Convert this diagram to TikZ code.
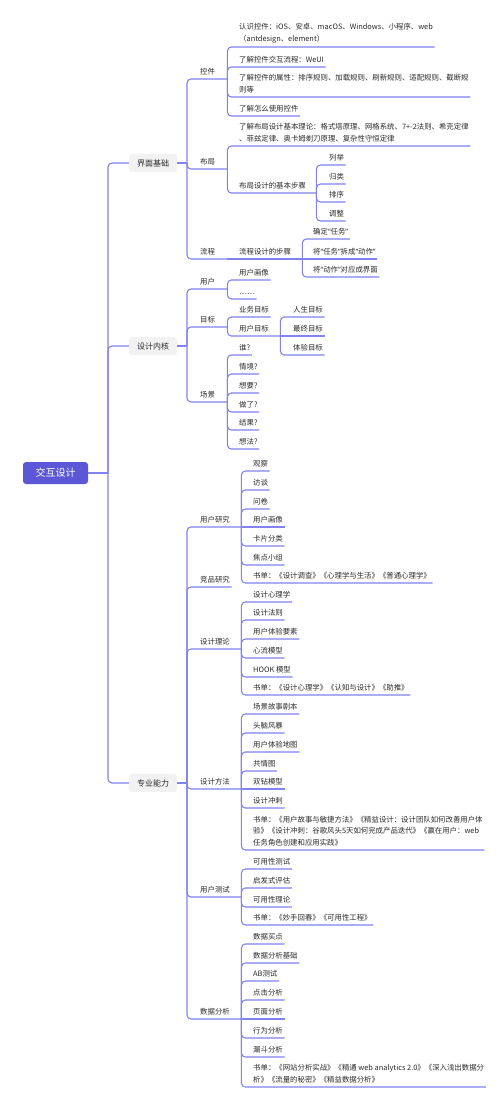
\documentclass[tikz,border=0pt]{standalone}
\usepackage{fontspec}
\setmainfont{Noto Sans CJK SC}
\newfontfamily\latinf{Noto Sans}
\newcommand\quo[1]{{\latinf“}#1{\latinf”}}
\definecolor{linec}{HTML}{8282F0}
\definecolor{rootc}{HTML}{5B57D6}
\definecolor{boxc}{HTML}{F2F2F2}
\definecolor{txtc}{HTML}{2B2B2B}
\tikzset{
  link/.style={draw=linec, line width=1.1pt, rounded corners=4pt},
  leaf/.style={anchor=south west, inner xsep=1.5pt, inner ysep=3.8pt, text=txtc, align=left,
    font=\fontsize{7.4pt}{11.5pt}\selectfont},
  sub/.style={leaf, inner xsep=0pt, text width=#1},
  topic/.style={fill=boxc, rounded corners=3pt, minimum width=48pt, minimum height=18pt,
    inner sep=0pt, text=txtc, font=\fontsize{8pt}{10pt}\selectfont},
  rootbox/.style={fill=rootc, rounded corners=3pt, minimum width=65pt, minimum height=22pt,
    inner sep=0pt, text=white, font=\fontsize{10pt}{12pt}\selectfont}
}
\begin{document}
\begin{tikzpicture}[x=1pt,y=-1pt]
\useasboundingbox[fill=white] (0,0) rectangle (500,1110);

% root and main topics
\node[rootbox] (root) at (55.5,473) {交互设计};
\coordinate (root-j) at (108,473);
\node[topic] (jm) at (153,163) {界面基础};
\node[topic] (hx) at (153,346) {设计内核};
\node[topic] (zy) at (153,783) {专业能力};
\coordinate (jm-j) at (187,163);
\coordinate (hx-j) at (187,346);
\coordinate (zy-j) at (187,783);

% 界面基础
\node[sub=27pt] (kj) at (200,79) {控件};
\node[sub=27pt] (bj) at (200,169) {布局};
\node[sub=27pt] (lc) at (200,259) {流程};
\node[leaf] (kj-1) at (237.5,47) {认识控件：iOS、安卓、macOS、Windows、小程序、web\\（antdesign、element）};
\node[leaf] (kj-2) at (237.5,67) {了解控件交互流程：WeUI};
\node[leaf] (kj-3) at (237.5,97) {了解控件的属性：排序规则、加载规则、刷新规则、适配规则、截断规\\则等};
\node[leaf] (kj-4) at (237.5,116) {了解怎么使用控件};
\node[leaf] (bj-1) at (237.5,146) {了解布局设计基本理论：格式塔原理、网格系统、7+-2法则、希克定律\\、菲兹定律、奥卡姆剃刀原理、复杂性守恒定律};
\node[sub=77pt] (bj-2) at (239,193) {布局设计的基本步骤};
\node[leaf] (bj-2-1) at (327.5,165) {列举};
\node[leaf] (bj-2-2) at (327.5,184) {归类};
\node[leaf] (bj-2-3) at (327.5,202) {排序};
\node[leaf] (bj-2-4) at (327.5,221) {调整};
\node[sub=63pt] (lc-1) at (239,259) {流程设计的步骤};
\node[leaf] (lc-1-1) at (311.5,239) {确定\quo{任务}};
\node[leaf] (lc-1-2) at (311.5,259) {将\quo{任务}拆成\quo{动作}};
\node[leaf] (lc-1-3) at (311.5,277) {将\quo{动作}对应成界面};

% 设计内核
\node[sub=27pt] (yh) at (200,289) {用户};
\node[sub=27pt] (mb) at (200,327) {目标};
\node[sub=27pt] (cj) at (200,402) {场景};
\node[leaf] (yh-1) at (237.5,280) {用户画像};
\node[leaf] (yh-2) at (237.5,299) {……};
\node[leaf] (mb-1) at (237.5,317) {业务目标};
\node[sub=41pt] (mb-2) at (239,336) {用户目标};
\node[leaf] (mb-2-1) at (291.5,317) {人生目标};
\node[leaf] (mb-2-2) at (291.5,336) {最终目标};
\node[leaf] (mb-2-3) at (291.5,355) {体验目标};
\node[leaf] (cj-1) at (237.5,355) {谁?};
\node[leaf] (cj-2) at (237.5,374) {情境?};
\node[leaf] (cj-3) at (237.5,393) {想要?};
\node[leaf] (cj-4) at (237.5,412) {做了?};
\node[leaf] (cj-5) at (237.5,430) {结果?};
\node[leaf] (cj-6) at (237.5,449) {想法?};

% 专业能力
\node[sub=41pt] (yhyj) at (200,527) {用户研究};
\node[leaf] (jpyj) at (198.5,587) {竞品研究};
\node[sub=41pt] (sjll) at (200,649) {设计理论};
\node[sub=41pt] (sjff) at (200,789) {设计方法};
\node[sub=41pt] (yhcs) at (200,897) {用户测试};
\node[sub=41pt] (sjfx) at (200,1019) {数据分析};

\node[leaf] (yhyj-1) at (251.5,471) {观察};
\node[leaf] (yhyj-2) at (251.5,490) {访谈};
\node[leaf] (yhyj-3) at (251.5,509) {问卷};
\node[leaf] (yhyj-4) at (251.5,527) {用户画像};
\node[leaf] (yhyj-5) at (251.5,546) {卡片分类};
\node[leaf] (yhyj-6) at (251.5,565) {焦点小组};
\node[leaf] (yhyj-7) at (251.5,583) {书单：《设计调查》《心理学与生活》《普通心理学》};

\node[leaf] (sjll-1) at (251.5,602) {设计心理学};
\node[leaf] (sjll-2) at (251.5,620) {设计法则};
\node[leaf] (sjll-3) at (251.5,639) {用户体验要素};
\node[leaf] (sjll-4) at (251.5,658) {心流模型};
\node[leaf] (sjll-5) at (251.5,677) {HOOK 模型};
\node[leaf] (sjll-6) at (251.5,695) {书单：《设计心理学》《认知与设计》《助推》};

\node[leaf] (sjff-1) at (251.5,714) {场景故事剧本};
\node[leaf] (sjff-2) at (251.5,733) {头脑风暴};
\node[leaf] (sjff-3) at (251.5,752) {用户体验地图};
\node[leaf] (sjff-4) at (251.5,771) {共情图};
\node[leaf] (sjff-5) at (251.5,789) {双钻模型};
\node[leaf] (sjff-6) at (251.5,808) {设计冲刺};
\node[leaf] (sjff-7) at (251.5,850) {书单：《用户故事与敏捷方法》《精益设计：设计团队如何改善用户体\\验》《设计冲刺：谷歌风头5天如何完成产品迭代》《赢在用户：web\\任务角色创建和应用实践》};

\node[leaf] (yhcs-1) at (251.5,869) {可用性测试};
\node[leaf] (yhcs-2) at (251.5,888) {启发式评估};
\node[leaf] (yhcs-3) at (251.5,907) {可用性理论};
\node[leaf] (yhcs-4) at (251.5,925) {书单：《妙手回春》《可用性工程》};

\node[leaf] (sjfx-1) at (251.5,944) {数据买点};
\node[leaf] (sjfx-2) at (251.5,963) {数据分析基础};
\node[leaf] (sjfx-3) at (251.5,981) {AB测试};
\node[leaf] (sjfx-4) at (251.5,1000) {点击分析};
\node[leaf] (sjfx-5) at (251.5,1019) {页面分析};
\node[leaf] (sjfx-6) at (251.5,1038) {行为分析};
\node[leaf] (sjfx-7) at (251.5,1057) {漏斗分析};
\node[leaf] (sjfx-8) at (251.5,1087) {书单：《网站分析实战》《精通 web analytics 2.0》《深入浅出数据分\\析》《流量的秘密》《精益数据分析》};

% connectors
\draw[link] (root.east) -- (root-j);
\foreach \t in {jm,hx,zy} {
  \draw[link] (root-j) |- (\t.west);
  \draw[link] (\t.east) -- (\t-j);
}
\foreach \c in {kj,bj,lc} \draw[link] (jm-j) |- (\c.south east);
\foreach \c in {yh,mb,cj} \draw[link] (hx-j) |- (\c.south east);
\foreach \c in {yhyj,jpyj,sjll,sjff,yhcs,sjfx} \draw[link] (zy-j) |- (\c.south east);

\foreach \c in {kj-1,kj-2,kj-3,kj-4} \draw[link] (kj.south east) |- (\c.south east);
\foreach \c in {bj-1,bj-2} \draw[link] (bj.south east) |- (\c.south east);
\foreach \c in {bj-2-1,bj-2-2,bj-2-3,bj-2-4} \draw[link] (bj-2.south east) |- (\c.south east);
\draw[link] (lc.south east) -- (lc-1.south east);
\foreach \c in {lc-1-1,lc-1-3} \draw[link] (lc-1.south east) |- (\c.south east);
\draw[link] (lc-1.south east) -- (lc-1-2.south east);

\foreach \c in {yh-1,yh-2} \draw[link] (yh.south east) |- (\c.south east);
\foreach \c in {mb-1,mb-2} \draw[link] (mb.south east) |- (\c.south east);
\foreach \c in {mb-2-1,mb-2-3} \draw[link] (mb-2.south east) |- (\c.south east);
\draw[link] (mb-2.south east) -- (mb-2-2.south east);
\foreach \c in {cj-1,cj-2,cj-3,cj-4,cj-5,cj-6} \draw[link] (cj.south east) |- (\c.south east);

\foreach \c in {yhyj-1,yhyj-2,yhyj-3,yhyj-5,yhyj-6,yhyj-7} \draw[link] (yhyj.south east) |- (\c.south east);
\draw[link] (yhyj.south east) -- (yhyj-4.south east);
\foreach \c in {sjll-1,sjll-2,sjll-3,sjll-4,sjll-5,sjll-6} \draw[link] (sjll.south east) |- (\c.south east);
\foreach \c in {sjff-1,sjff-2,sjff-3,sjff-4,sjff-6,sjff-7} \draw[link] (sjff.south east) |- (\c.south east);
\draw[link] (sjff.south east) -- (sjff-5.south east);
\foreach \c in {yhcs-1,yhcs-2,yhcs-3,yhcs-4} \draw[link] (yhcs.south east) |- (\c.south east);
\foreach \c in {sjfx-1,sjfx-2,sjfx-3,sjfx-4,sjfx-6,sjfx-7,sjfx-8} \draw[link] (sjfx.south east) |- (\c.south east);
\draw[link] (sjfx.south east) -- (sjfx-5.south east);
\end{tikzpicture}
\end{document}
